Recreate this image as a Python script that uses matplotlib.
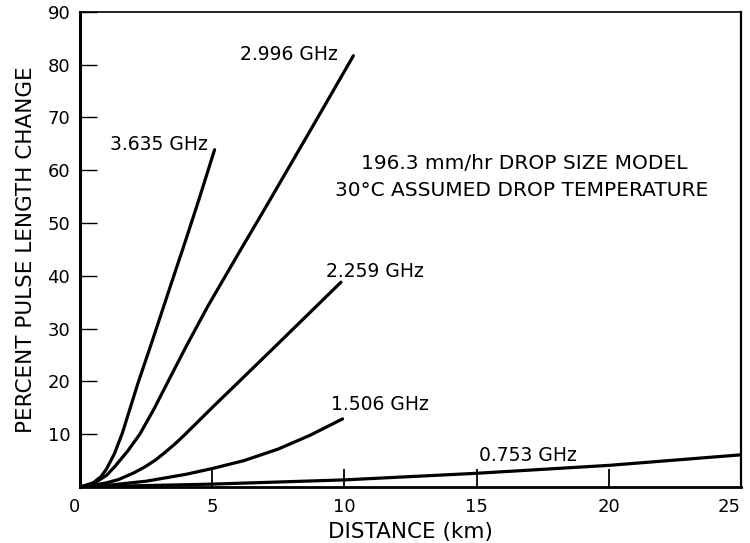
import matplotlib
matplotlib.use("Agg")
import matplotlib.pyplot as plt

# curves (distance km, percent pulse length change)
d_3635 = [0, 0.5, 0.8, 1.0, 1.3, 1.6, 1.9, 2.2, 2.7, 3.15, 3.6, 4.0, 4.5, 5.09]
p_3635 = [0, 0.8, 2.0, 3.4, 6.3, 10.2, 15.0, 19.8, 27.2, 34, 40.8, 46.8, 54.5, 63.9]

d_2996 = [0, 0.5, 1.0, 1.32, 1.8, 2.26, 2.8, 3.27, 4.0, 4.84, 6.0, 7.0, 8.74, 10.34]
p_2996 = [0, 0.6, 2.2, 3.9, 6.8, 10, 14.8, 19.4, 26.5, 34.3, 44.3, 52.8, 67.8, 81.7]

d_2259 = [0, 0.5, 1.0, 1.45, 2.0, 2.45, 2.85, 3.2, 3.6, 3.96, 5.05, 6.0, 7.5, 8.87, 9.87]
p_2259 = [0, 0.3, 0.8, 1.4, 2.6, 3.8, 5.1, 6.5, 8.2, 9.9, 15.3, 19.9, 27.2, 33.9, 38.8]

d_1506 = [0, 1.0, 2.5, 4.0, 5.0, 6.2, 7.5, 8.7, 9.93]
p_1506 = [0, 0.3, 1.1, 2.4, 3.5, 5.0, 7.2, 9.8, 12.9]

d_0753 = [0, 5, 10, 15, 20, 25]
p_0753 = [0, 0.55, 1.35, 2.6, 4.1, 6.1]

x_ticks = [0, 5, 10, 15, 20, 25]
y_ticks = [10, 20, 30, 40, 50, 60, 70, 80, 90]

FS = 13.5

fig = plt.figure(figsize=(7.5, 5.43), dpi=100)
ax = fig.add_axes([0.1067, 0.1031, 0.8813, 0.875])

for xs, ys in [(d_3635, p_3635), (d_2996, p_2996), (d_2259, p_2259),
               (d_1506, p_1506), (d_0753, p_0753)]:
    ax.plot(xs, ys, color='black', lw=2.3, solid_capstyle='round',
            solid_joinstyle='round')

ax.set_xlim(0, 25)
ax.set_ylim(0, 90)
ax.set_xticks(x_ticks)
ax.set_yticks(y_ticks)
ax.tick_params(axis='x', direction='in', length=13, width=1.3, pad=8,
               labelsize=13)
ax.tick_params(axis='y', direction='in', length=12, width=1.0, pad=7,
               labelsize=13)
xlabels = ax.get_xticklabels()
xlabels[0].set_horizontalalignment('right')
xlabels[-1].set_horizontalalignment('right')
ax.spines['left'].set_linewidth(2.2)
ax.spines['bottom'].set_linewidth(2.0)
ax.spines['top'].set_linewidth(1.2)
ax.spines['right'].set_linewidth(1.6)

ax.set_xlabel('DISTANCE (km)', fontsize=15.5, labelpad=4)
ax.set_ylabel('PERCENT PULSE LENGTH CHANGE', fontsize=15.5, labelpad=8)

# curve labels
ax.text(4.83, 64.8, '3.635 GHz', ha='right', va='center', fontsize=FS)
ax.text(9.74, 81.9, '2.996 GHz', ha='right', va='center', fontsize=FS)
ax.text(9.32, 40.8, '2.259 GHz', ha='left', va='center', fontsize=FS)
ax.text(9.51, 15.6, '1.506 GHz', ha='left', va='center', fontsize=FS)
ax.text(15.09, 5.9, '0.753 GHz', ha='left', va='center', fontsize=FS)

ax.text(16.8, 61.2, '196.3 mm/hr DROP SIZE MODEL', ha='center', va='center',
        fontsize=14.5)
ax.text(16.7, 56.2, '30\u00b0C ASSUMED DROP TEMPERATURE', ha='center',
        va='center', fontsize=14.5)

fig.savefig('out.png', dpi=100)
